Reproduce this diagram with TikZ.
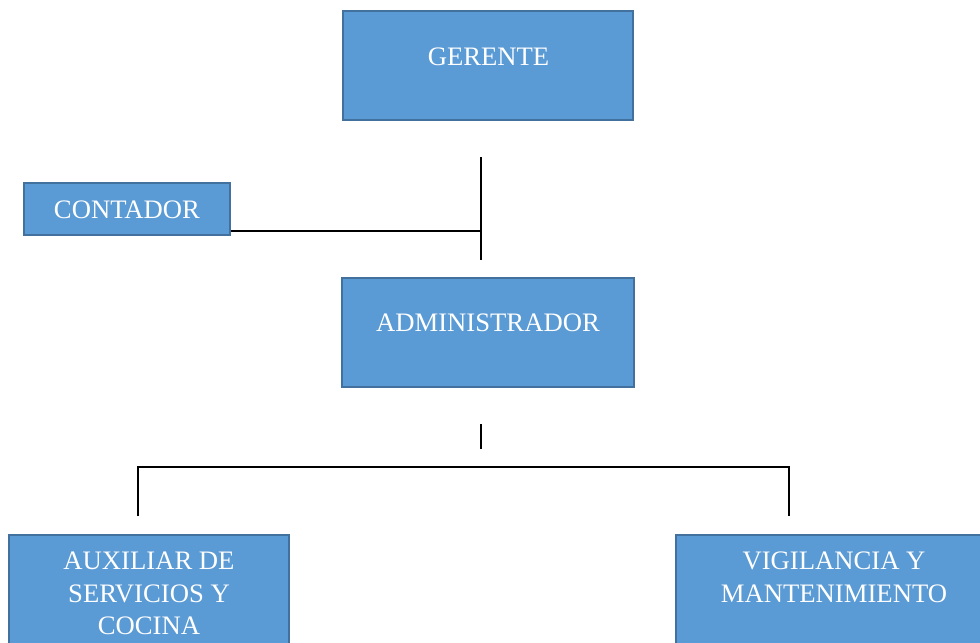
\documentclass[tikz,border=0pt]{standalone}
\usepackage{fontspec}
\setmainfont{Liberation Serif}
\definecolor{boxfill}{HTML}{5B9BD5}
\definecolor{boxedge}{HTML}{41719C}
\begin{document}
\begin{tikzpicture}[x=0.75pt,y=-0.75pt,
  orgbox/.style={draw=boxedge,fill=boxfill,line width=1.5pt,inner sep=0pt},
  orgtext/.style={text=white,font=\fontsize{20}{24.4}\selectfont,anchor=base,align=center,inner sep=0pt},
  conn/.style={line width=1.5pt,black}]
\useasboundingbox (0,0) rectangle (980,642);
\clip (0,0) rectangle (980,642);
% boxes
\node[orgbox,minimum width=217.5pt,minimum height=81.75pt] (gerente) at (488,65.5) {};
\node[orgbox,minimum width=154.5pt,minimum height=39pt] (contador) at (127,209) {};
\node[orgbox,minimum width=219pt,minimum height=81.75pt] (admin) at (488,332.5) {};
\node[orgbox,minimum width=210pt,minimum height=90pt] (aux) at (149,595) {};
\node[orgbox,minimum width=240pt,minimum height=90pt] (vig) at (836,595) {};
% texts
\node[orgtext] (gerenteT) at (488.5,65) {GERENTE};
\node[orgtext] (contadorT) at (127,218) {CONTADOR};
\node[orgtext] (adminT) at (488,331) {ADMINISTRADOR};
\node[orgtext,anchor=north] (auxT) at (149,552) {AUXILIAR DE\\SERVICIOS Y\\COCINA};
\node[orgtext,anchor=north] (vigT) at (834,552) {VIGILANCIA Y\\MANTENIMIENTO};
% connectors
\coordinate (top1) at (481,157);
\coordinate (j1) at (481,231);
\coordinate (bot1) at (481,260);
\draw[conn] (top1) -- (bot1);
\draw[conn] (contador.east |- j1) -- (j1);
\coordinate (top2) at (481,424);
\coordinate (bot2) at (481,449);
\draw[conn] (top2) -- (bot2);
\coordinate (hl) at (138,467);
\coordinate (hr) at (789,467);
\draw[conn] (hl |- 0,516) -- (hl) -- (hr) -- (hr |- 0,516);
\end{tikzpicture}
\end{document}
